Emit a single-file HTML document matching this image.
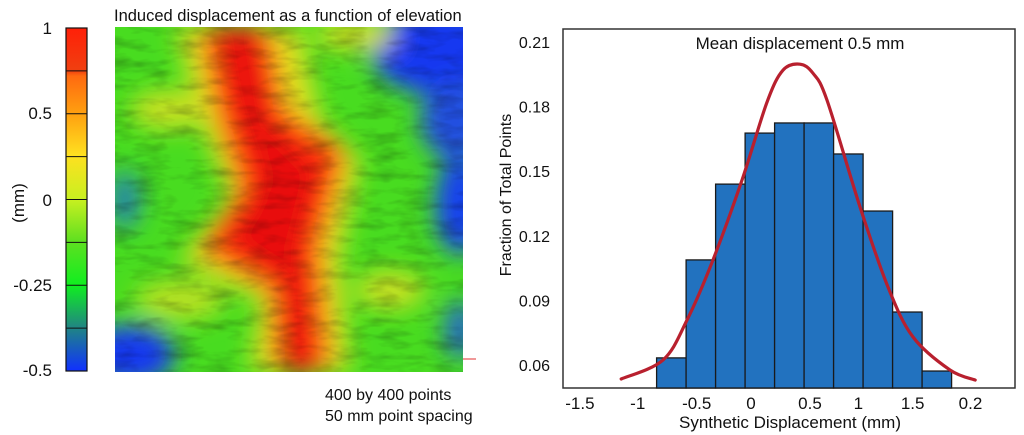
<!DOCTYPE html>
<html><head><meta charset="utf-8">
<style>
html,body{margin:0;padding:0;background:#fff;}
body{width:1024px;height:435px;overflow:hidden;font-family:"Liberation Sans",sans-serif;}
svg{display:block}
</style></head>
<body>
<svg id="fig" width="1024" height="435" viewBox="0 0 1024 435">
<defs>
  <linearGradient id="cbar" x1="0" y1="0" x2="0" y2="1">
    <stop offset="0" stop-color="#ff2008"/>
    <stop offset="0.125" stop-color="#f04010"/>
    <stop offset="0.14" stop-color="#ff6a10"/>
    <stop offset="0.25" stop-color="#ffa010"/>
    <stop offset="0.37" stop-color="#ffe020"/>
    <stop offset="0.5" stop-color="#c8f020"/>
    <stop offset="0.62" stop-color="#60e020"/>
    <stop offset="0.75" stop-color="#10ee20"/>
    <stop offset="0.87" stop-color="#208880"/>
    <stop offset="1" stop-color="#1030ff"/>
  </linearGradient>
  <filter id="blur" x="-20%" y="-20%" width="140%" height="140%"><feGaussianBlur stdDeviation="12"/></filter>
  <filter id="tex" x="0" y="0" width="100%" height="100%">
    <feTurbulence type="fractalNoise" baseFrequency="0.03 0.1" numOctaves="3" seed="4"/>
    <feColorMatrix type="matrix" values="0 0 0 0 0  0 0 0 0 0  0 0 0 0 0  0 0 0 -1.4 0.8"/>
  </filter>
  <clipPath id="mapclip"><rect x="115" y="27" width="348" height="345"/></clipPath>
</defs>

<text x="114" y="21" font-size="16.5" fill="#111">Induced displacement as a function of elevation</text>

<g>
  <rect x="66" y="28" width="21" height="343" fill="url(#cbar)" stroke="#111" stroke-width="1.2"/>
  <g id="cbdiv" stroke="#111" stroke-width="1"></g>
</g>
<g font-size="17" fill="#111" text-anchor="end">
  <text x="52" y="34">1</text>
  <text x="52" y="119">0.5</text>
  <text x="52" y="206">0</text>
  <text x="52" y="291">-0.25</text>
  <text x="52" y="376">-0.5</text>
</g>
<text transform="translate(24,203) rotate(-90)" font-size="17" text-anchor="middle" fill="#111">(mm)</text>

<g clip-path="url(#mapclip)">
  <rect x="115" y="27" width="348" height="345" fill="#48dc20"/>
  <g filter="url(#blur)">
    <ellipse cx="440" cy="50" rx="70" ry="45" fill="#1838f0"/>
    <ellipse cx="455" cy="120" rx="35" ry="40" fill="#2050e0"/>
    <ellipse cx="460" cy="205" rx="25" ry="50" fill="#1840f0"/>
    <ellipse cx="130" cy="355" rx="45" ry="30" fill="#1838f0"/>
    <ellipse cx="125" cy="200" rx="15" ry="30" fill="#2080b0"/>
    <ellipse cx="460" cy="330" rx="15" ry="30" fill="#2060d0"/>
    <path d="M175 27 L300 27 L320 120 L360 160 L340 260 L350 372 L250 372 L260 300 L180 260 L230 200 L200 120 Z" fill="#e0e020"/>
    <path d="M200 27 L270 27 L285 110 L345 150 L320 250 L330 372 L275 372 L270 290 L200 250 L240 190 L215 110 Z" fill="#ff3010"/>
    <path d="M220 30 L255 30 L270 120 L320 170 L300 250 L310 372 L290 372 L280 280 L225 240 L260 180 L235 110 Z" fill="#e81010"/>
    <ellipse cx="355" cy="35" rx="40" ry="15" fill="#d8e020"/>
    <ellipse cx="170" cy="110" rx="40" ry="20" fill="#c8e020"/>
    <ellipse cx="180" cy="300" rx="45" ry="20" fill="#b8e020"/>
    <ellipse cx="390" cy="290" rx="35" ry="20" fill="#c8e020"/>
  </g>
  <rect x="115" y="27" width="348" height="345" filter="url(#tex)" opacity="0.35"/>
</g>
<line x1="463" y1="359" x2="476" y2="359" stroke="#e03030" stroke-width="1"/>
<text x="325" y="400" font-size="16" fill="#111">400 by 400 points</text>
<text x="325" y="421" font-size="16" fill="#111">50 mm point spacing</text>

<g id="hist"></g>
</svg>
<script>
const binStarts = [-0.8,-0.55,-0.3,-0.05,0.2,0.45,0.7,0.95,1.2,1.45];
const binWidth = 0.25;
const fractions = [0.0633,0.1088,0.144,0.1677,0.1724,0.1724,0.158,0.1315,0.0846,0.0572];
const curveX = [-1.10,-0.746,-0.542,-0.322,-0.076,0.136,0.271,0.415,0.525,0.644,0.924,1.161,1.373,1.686,1.90];
const curveY = [0.0535,0.0623,0.0809,0.1088,0.1459,0.1821,0.1969,0.1997,0.1955,0.1830,0.1334,0.0962,0.0730,0.0577,0.0530];
const yTicks = [0.06,0.09,0.12,0.15,0.18,0.21];
const xTickLabels = ["-1.5","-1","-0.5","0","0.5","1","1.5","0.2"];
const xTickPos = [-1.45,-0.96,-0.46,0,0.5,0.91,1.37,1.86];

const NS='http://www.w3.org/2000/svg';
const L=563,R=1015,T=29,B=388;
const xs=v=>751+v*118;
const ys=v=>365-(v-0.06)/0.03*64.6;
const g=document.getElementById('hist');
function mk(tag,attrs,parent){const e=document.createElementNS(NS,tag);for(const k in attrs)e.setAttribute(k,attrs[k]);(parent||g).appendChild(e);return e;}

const cb=document.getElementById('cbdiv');
for(let i=1;i<8;i++){const y=28+i*343/8;const ln=mk('line',{x1:66,x2:87,y1:y,y2:y},cb);

}

const frame=mk('rect',{x:L,y:T,width:R-L,height:B-T,fill:'none',stroke:'#333','stroke-width':1.5});



fractions.forEach((f,i)=>{
  const x0=xs(binStarts[i]),x1=xs(binStarts[i]+binWidth);
  const r=mk('rect',{x:x0,y:ys(f),width:x1-x0,height:B-ys(f),fill:'#2272bf',stroke:'#1a1a1a','stroke-width':1.3});
  
  
});

const pts=curveX.map((x,i)=>[xs(x),ys(curveY[i])]);
let d='M'+pts[0][0]+' '+pts[0][1];
for(let i=0;i<pts.length-1;i++){
  const p0=pts[i-1]||pts[i],p1=pts[i],p2=pts[i+1],p3=pts[i+2]||p2;
  const c1=[p1[0]+(p2[0]-p0[0])/6,p1[1]+(p2[1]-p0[1])/6];
  const c2=[p2[0]-(p3[0]-p1[0])/6,p2[1]-(p3[1]-p1[1])/6];
  d+=` C${c1[0]} ${c1[1]} ${c2[0]} ${c2[1]} ${p2[0]} ${p2[1]}`;
}
const curve=mk('path',{d:d,fill:'none',stroke:'#b8202e','stroke-width':3.2,'stroke-linecap':'round'});



yTicks.forEach(v=>{
  const t=mk('text',{x:550,y:ys(v)+6,'font-size':16,'text-anchor':'end',fill:'#111'});
  t.textContent=v.toFixed(2);
  
  
});
xTickLabels.forEach((s,i)=>{
  const t=mk('text',{x:xs(xTickPos[i]),y:409,'font-size':17,'text-anchor':'middle',fill:'#111'});
  t.textContent=s;
  
  
});
const xt=mk('text',{x:790,y:428,'font-size':17,'text-anchor':'middle',fill:'#111'});
xt.textContent='Synthetic Displacement (mm)';


const yt=mk('text',{transform:'translate(511,195) rotate(-90)','font-size':16,'text-anchor':'middle',fill:'#111'});
yt.textContent='Fraction of Total Points';


const tt=mk('text',{x:800,y:49,'font-size':17,'text-anchor':'middle',fill:'#111'});
tt.textContent='Mean displacement 0.5 mm';


</script>
</body></html>
